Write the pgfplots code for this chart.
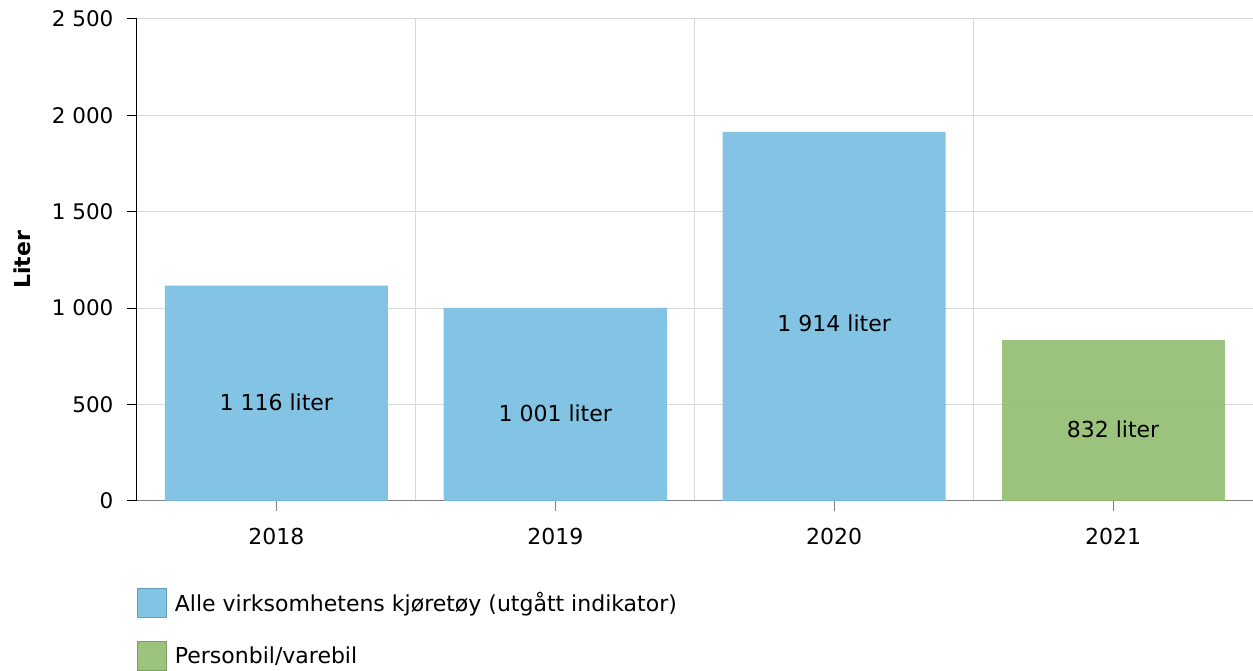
\documentclass[border=0pt]{standalone}
\usepackage{fontspec}
\setmainfont{DejaVu Sans}
\usepackage{pgfplots}
\pgfplotsset{compat=1.18}
\definecolor{barblue}{RGB}{118,188,224}
\definecolor{bargreen}{RGB}{145,189,112}
\definecolor{gridgray}{RGB}{216,216,216}
\begin{document}
\begin{tikzpicture}[font=\fontsize{22}{26}\selectfont]
\begin{axis}[
  scale only axis,
  width=1116pt, height=482pt,
  xmin=-0.5, xmax=3.5,
  ymin=0, ymax=2500,
  ytick={0,500,...,2500},
  xtick={0,1,2,3},
  xticklabels={2018,2019,2020,2021},
  minor xtick={0.5,1.5,2.5},
  xminorgrids=true, ymajorgrids=true, xmajorgrids=false,
  grid style={gridgray, line width=1pt},
  minor grid style={gridgray, line width=1pt},
  axis x line*=bottom, axis y line*=left,
  x axis line style={-, color=gray, line width=1pt},
  y axis line style={-, black, line width=1pt},
  tick align=outside,
  major tick length=10pt, minor tick length=0pt,
  xtick style={gray, line width=1pt},
  ytick style={black, line width=1pt},
  scaled y ticks=false,
  /pgf/number format/1000 sep={\ },
  /pgf/number format/assume math mode=true,
  yticklabel style={xshift=-10pt, font=\fontsize{21.5}{25}\selectfont},
  xticklabel style={yshift=-14pt},
  ylabel={Liter},
  ylabel style={font=\fontsize{22}{26}\selectfont\bfseries, at={(axis description cs:-0.103,0.5)}, anchor=center},
  legend cell align=left,
  legend style={at={(axis description cs:0,-0.18)}, anchor=north west, draw=none, fill=none, inner sep=0pt, row sep=23pt, column sep=8pt, nodes={inner sep=0pt, anchor=west}},
]
\addplot[ybar, bar width=0.8, bar shift=0pt, fill=barblue, fill opacity=0.9, draw=none,
  legend image code/.code={\filldraw[fill=barblue, draw=barblue!85!black, line width=0.8pt] (0pt,-14.5pt) rectangle (29pt,14.5pt);}]
  coordinates {(0,1116) (1,1001) (2,1914)};
\addlegendentry{Alle virksomhetens kjøretøy (utgått indikator)}
\addplot[ybar, bar width=0.8, bar shift=0pt, fill=bargreen, fill opacity=0.9, draw=none,
  legend image code/.code={\filldraw[fill=bargreen, draw=bargreen!85!black, line width=0.8pt] (0pt,-14.5pt) rectangle (29pt,14.5pt);}]
  coordinates {(3,832)};
\addlegendentry{Personbil/varebil}
\node at (axis cs:0,513) {1 116 liter};
\node at (axis cs:1,456) {1 001 liter};
\node at (axis cs:2,923) {1 914 liter};
\node at (axis cs:3,373) {832 liter};
\end{axis}
\path ([xshift=-137pt, yshift=19pt]current axis.north west) rectangle ([yshift=-169pt]current axis.south east);
\end{tikzpicture}
\end{document}
